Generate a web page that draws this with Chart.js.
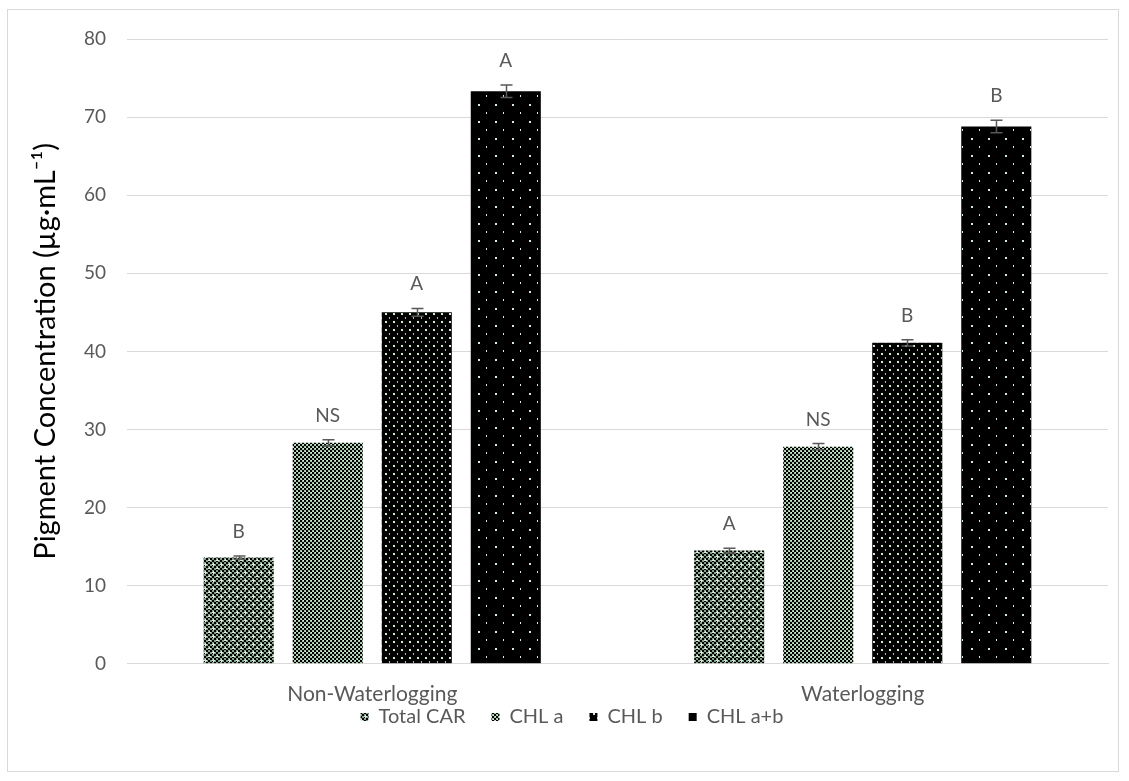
<!DOCTYPE html>
<html>
<head>
<meta charset="utf-8">
<script src="https://cdn.jsdelivr.net/npm/chart.js@4/dist/chart.umd.min.js"></script>
<style>
  html, body { margin: 0; padding: 0; background: #fff; }
  #wrap { position: relative; width: 1129px; height: 781px; }
</style>
</head>
<body>
<div id="wrap"><canvas id="c" width="1129" height="781"></canvas></div>
<script>
// Treatments on the x axis
const categories = ['Non-Waterlogging', 'Waterlogging'];
const seriesNames = ['Total CAR', 'CHL a', 'CHL b', 'CHL a+b'];

// Mean pigment concentration (µg·mL⁻¹) per series, one value per treatment
const totalCar = [13.6, 14.5];
const chlA = [28.3, 27.8];
const chlB = [45.0, 41.1];
const chlAB = [73.3, 68.8];

// Standard errors
const errTotalCar = [0.2, 0.3];
const errChlA = [0.4, 0.4];
const errChlB = [0.5, 0.4];
const errChlAB = [0.8, 0.8];

// Significance letters above each bar
const lettersTotalCar = ['B', 'A'];
const lettersChlA = ['NS', 'NS'];
const lettersChlB = ['A', 'B'];
const lettersChlAB = ['A', 'B'];

const yTicks = [0, 10, 20, 30, 40, 50, 60, 70, 80];

const FONT = 'Lato, "Open Sans", sans-serif';
const GREEN = '#d2eed3';

function makePattern(w, h, draw) {
  const c = document.createElement('canvas');
  c.width = w; c.height = h;
  const g = c.getContext('2d');
  draw(g);
  return g.createPattern(c, 'repeat');
}

// Carotenoids: 2px checker with light crosses
const patTotalCar = makePattern(8, 8, g => {
  g.fillStyle = '#86a08a'; g.fillRect(0, 0, 8, 8);
  g.fillStyle = '#000';
  for (let y = 0; y < 8; y += 2) for (let x = 0; x < 8; x += 2)
    if (((x + y) / 2) % 2 === 0) g.fillRect(x, y, 2, 2);
  g.fillStyle = GREEN;
  g.fillRect(4, 4, 3, 1); g.fillRect(5, 3, 1, 3);
  g.fillRect(0, 0, 3, 1); g.fillRect(1, 7, 1, 2);
});

// Chlorophyll a: fine checker
const patChlA = makePattern(4, 4, g => {
  g.fillStyle = '#a6c4a9'; g.fillRect(0, 0, 4, 4);
  g.fillStyle = '#000';
  g.fillRect(0, 0, 2, 2); g.fillRect(2, 2, 2, 2);
  g.fillStyle = GREEN;
  g.fillRect(3, 0, 1, 1); g.fillRect(1, 3, 1, 1);
});

// Chlorophyll b: black with dense dots
const patChlB = makePattern(8, 8, g => {
  g.fillStyle = '#000'; g.fillRect(0, 0, 8, 8);
  g.fillStyle = GREEN;
  g.fillRect(1, 1, 2, 2);
  g.fillStyle = '#a6c4a9';
  g.fillRect(5, 5, 1, 2);
});

// Total chlorophyll: black with sparse dots
const patChlAB = makePattern(17, 17, g => {
  g.fillStyle = '#000'; g.fillRect(0, 0, 17, 17);
  g.fillStyle = GREEN;
  g.fillRect(2, 2, 2, 2);
  g.fillRect(10, 10, 1, 2);
});

const errs = [errTotalCar, errChlA, errChlB, errChlAB];
const letters = [lettersTotalCar, lettersChlA, lettersChlB, lettersChlAB];

const frame = {
  id: 'frame',
  beforeDraw(chart) {
    const ctx = chart.ctx;
    ctx.save();
    ctx.strokeStyle = '#d9d9d9';
    ctx.lineWidth = 1;
    ctx.strokeRect(7.5, 9.5, 1111, 762);
    ctx.restore();
  }
};

// Move the legend row up under the category labels and slightly right
const legendShift = {
  id: 'legendShift',
  afterLayout(chart) {
    const lg = chart.legend;
    if (!lg) return;
    lg.left += 5; lg.right += 5;
    lg.top -= 44; lg.bottom -= 44;
  }
};

const errorBars = {
  id: 'errorBars',
  afterDatasetsDraw(chart) {
    const ctx = chart.ctx;
    const y = chart.scales.y;
    ctx.save();
    chart.data.datasets.forEach((ds, i) => {
      const meta = chart.getDatasetMeta(i);
      meta.data.forEach((bar, j) => {
        const v = ds.data[j];
        const e = errs[i][j];
        const yt = y.getPixelForValue(v + e);
        const yb = y.getPixelForValue(v - e);
        const x = Math.round(bar.x) + 0.5;
        ctx.strokeStyle = '#595959';
        ctx.lineWidth = 1.5;
        ctx.beginPath();
        ctx.moveTo(x, yt); ctx.lineTo(x, yb);
        ctx.moveTo(x - 6, yt); ctx.lineTo(x + 6, yt);
        ctx.moveTo(x - 6, yb); ctx.lineTo(x + 6, yb);
        ctx.stroke();
        ctx.fillStyle = '#595959';
        ctx.font = '19px ' + FONT;
        ctx.textAlign = 'center';
        ctx.textBaseline = 'alphabetic';
        ctx.fillText(letters[i][j], bar.x, yt - 18);
      });
    });
    ctx.restore();
  }
};

new Chart(document.getElementById('c'), {
  type: 'bar',
  data: {
    labels: categories,
    datasets: [
      { label: seriesNames[0], data: totalCar, backgroundColor: patTotalCar },
      { label: seriesNames[1], data: chlA, backgroundColor: patChlA },
      { label: seriesNames[2], data: chlB, backgroundColor: patChlB },
      { label: seriesNames[3], data: chlAB, backgroundColor: patChlAB }
    ]
  },
  options: {
    responsive: false,
    animation: false,
    devicePixelRatio: 1,
    categoryPercentage: 0.726,
    barPercentage: 0.787,
    layout: { padding: { left: 26, right: 21, top: 39, bottom: 0 } },
    plugins: {
      legend: {
        position: 'bottom',
        labels: {
          boxWidth: 8, boxHeight: 8, padding: 26,
          color: '#595959',
          font: { family: FONT, size: 20 }
        }
      },
      tooltip: { enabled: false }
    },
    scales: {
      x: {
        grid: { display: false, drawTicks: false },
        border: { display: true, color: '#d9d9d9', width: 1 },
        ticks: { color: '#595959', padding: 18, font: { family: FONT, size: 21 } }
      },
      y: {
        min: 0, max: 80,
        afterBuildTicks(s) { s.ticks = yTicks.map(v => ({ value: v })); },
        afterFit(s) { s.width = 127 - 26; },
        grid: { color: '#d9d9d9', drawTicks: false },
        border: { display: false },
        ticks: { color: '#595959', padding: 21, font: { family: FONT, size: 19 } },
        title: {
          display: true,
          text: 'Pigment Concentration (µg·mL⁻¹)',
          color: '#000',
          padding: { top: 2, bottom: 0 },
          font: { family: FONT, size: 29 }
        }
      }
    }
  },
  plugins: [frame, legendShift, errorBars]
});
</script>
</body>
</html>
